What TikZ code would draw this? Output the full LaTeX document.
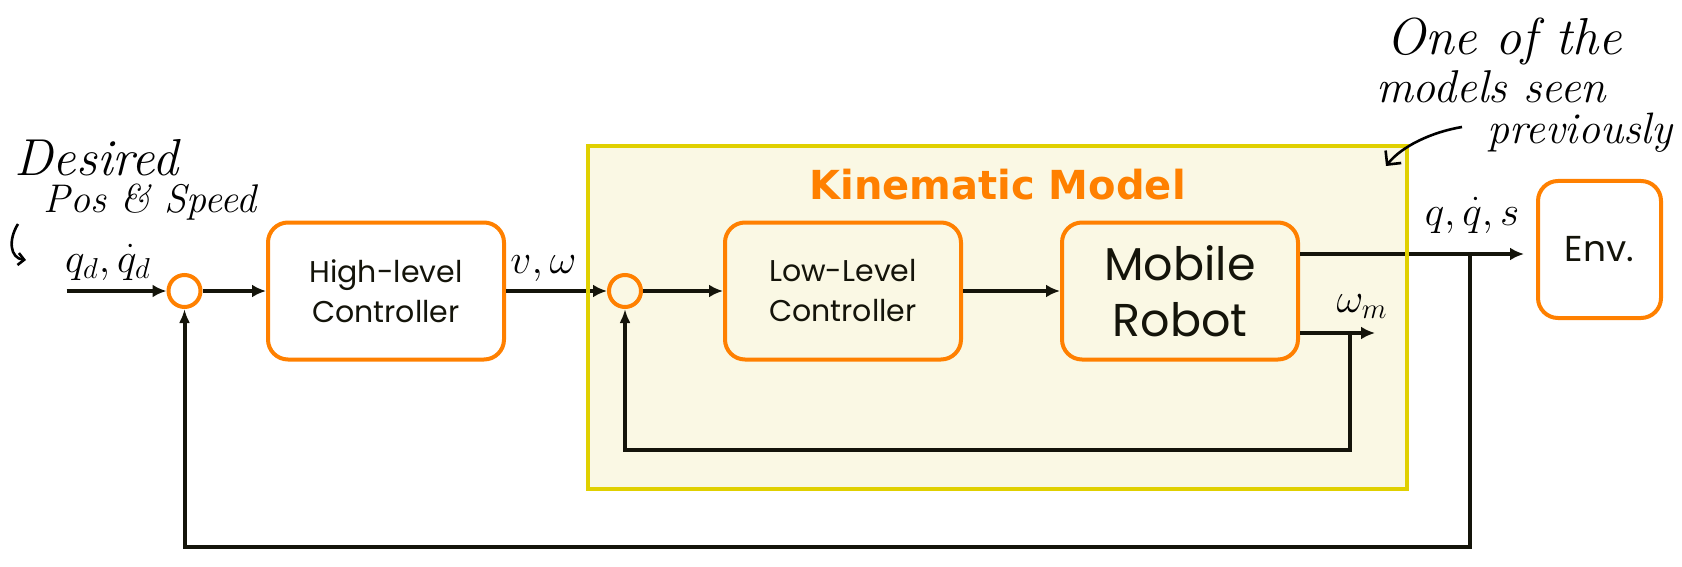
\documentclass[tikz,border=0pt]{standalone}
\usepackage{fontspec}
\usetikzlibrary{arrows.meta,positioning,backgrounds}
\newfontfamily\boxfont{Poppins}
\newfontfamily\titlefont{DejaVu Sans}
\definecolor{orangeline}{RGB}{255,128,0}
\definecolor{kinborder}{RGB}{224,208,0}
\definecolor{kinfill}{RGB}{250,248,228}
\definecolor{inkcol}{RGB}{20,20,10}
\tikzset{
  blockbox/.style={rectangle, rounded corners=10pt, draw=orangeline, line width=2pt,
    align=center, minimum width=118pt, minimum height=68.5pt, inner sep=2pt,
    text=inkcol, font=\boxfont\fontsize{15}{20}\selectfont},
  sumnode/.style={circle, draw=orangeline, line width=2pt, minimum size=16pt, inner sep=0pt},
  flow/.style={-{Latex[length=7pt,width=6.5pt]}, draw=inkcol, line width=2pt},
  fbline/.style={draw=inkcol, line width=2pt},
  mathlbl/.style={inner sep=0pt, anchor=base, font=\fontsize{22.5}{26}\selectfont},
  hand/.style={inner sep=0pt, font=\itshape},
}

\begin{document}
\begin{tikzpicture}
    \useasboundingbox (0,0) rectangle (841pt,-283.5pt);
    % kinematic model frame
    \node[fill=kinfill, minimum width=409pt, minimum height=171pt, inner sep=0pt]
      (kin) at (498.75pt,-158.75pt) {};
    \node[text=orangeline, font=\titlefont\bfseries\fontsize{20}{24}\selectfont] (kintitle) at (498.8pt,-92.5pt) {Kinematic Model};

    % main chain
    \coordinate (in) at (33.25pt,-145.5pt);
    \node[sumnode] (sum1) at (92.25pt,-145.5pt) {};
    \node[blockbox, right=31.75pt of sum1] (hlc) {High-level\\Controller};
    \node[sumnode, right=50.5pt of hlc] (sum2) {};
    \node[blockbox, right=40pt of sum2] (llc) {Low-Level\\Controller};
    \node[blockbox, right=48.5pt of llc, font=\boxfont\fontsize{23}{28}\selectfont] (robot) {Mobile\\Robot};
    \node[blockbox, minimum width=61.5pt, font=\boxfont\fontsize{18}{22}\selectfont] (env) at (799.75pt,-124.75pt) {Env.};

    \draw[flow] (in) -- (sum1);
    \draw[flow] (sum1) -- (hlc);
    \draw[flow] (hlc) -- (sum2);
    \draw[flow] (sum2) -- (llc);
    \draw[flow] (llc) -- (robot);

    % outputs and feedback
    \coordinate (qend) at (762pt,-127pt);
    \coordinate (wend) at (687.5pt,-166.5pt);
    \coordinate (tapq) at (735pt,-127pt);
    \coordinate (tapw) at (674.75pt,-166.5pt);
    \draw[flow] (robot.east |- qend) -- (qend);
    \draw[flow] (robot.east |- wend) -- (wend);
    \draw[fbline, -{Latex[length=7pt,width=5.5pt]}] (tapw) -- ++(0,-58.25pt) -| (sum2.south);
    \draw[fbline, -{Latex[length=7pt,width=5.5pt]}] (tapq) -- ++(0,-146.5pt) -| (sum1.south);
    \draw[draw=kinborder, line width=2pt] (kin.north west) rectangle (kin.south east);

    % signal labels
    \node[mathlbl] (qdlbl) at (54pt,-136pt) {$q_d, \dot{q}_d$};
    \node[mathlbl] (vwlbl) at (271.75pt,-136.5pt) {$v, \omega$};
    \node[mathlbl] (qlbl) at (736pt,-112.5pt) {$q, \dot{q}, s$};
    \node[mathlbl] (wmlbl) at (681pt,-156pt) {$\omega_m$};

    % handwritten notes
    \node[hand, font=\itshape\fontsize{26}{30}\selectfont] (desired) at (48.25pt,-79pt) {Desired};
    \node[hand, font=\itshape\fontsize{20}{24}\selectfont] (posspeed) at (75pt,-101pt) {Pos \& Speed};
    \coordinate (nstart) at (9pt,-112pt);
    \coordinate (nend) at (13pt,-130pt);
    \draw[line width=1.3pt, -{Straight Barb[length=3pt]}] (nstart) .. controls (4pt,-120pt) and (5pt,-129pt) .. (nend);

    \node[hand, font=\itshape\fontsize{26}{30}\selectfont] (onethe) at (752pt,-21pt) {One of the};
    \node[hand, font=\itshape\fontsize{23}{27}\selectfont] (models) at (745.5pt,-43.5pt) {models seen};
    \node[hand, font=\itshape\fontsize{22}{26}\selectfont] (prev) at (790pt,-66.5pt) {previously};
    \coordinate (astart) at (731pt,-63.5pt);
    \coordinate (aend) at (693pt,-83pt);
    \draw[line width=1.3pt, -{Straight Barb[length=5pt]}] (astart) .. controls (716pt,-66pt) and (701pt,-73pt) .. (aend);
  \end{tikzpicture}
\end{document}
